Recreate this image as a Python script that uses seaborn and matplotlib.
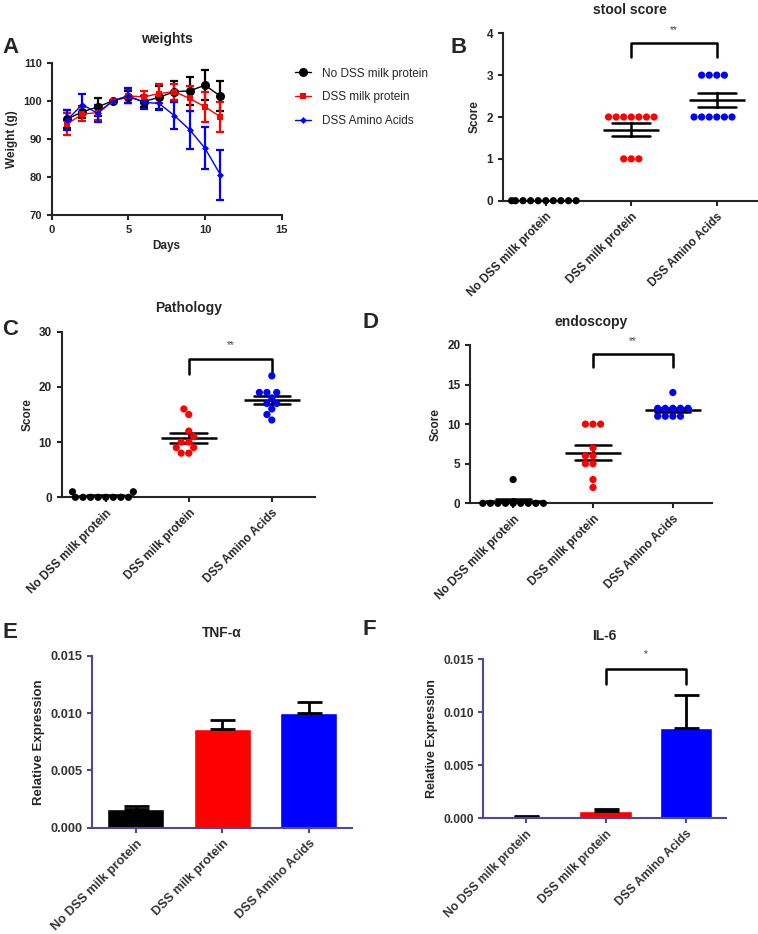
import matplotlib
matplotlib.use("Agg")
import matplotlib.pyplot as plt
from matplotlib.ticker import FormatStrFormatter
import numpy as np
import pandas as pd
import seaborn as sns

# groups shared by every panel
groups = ["No DSS milk protein", "DSS milk protein", "DSS Amino Acids"]
group_colors = ["#000000", "#ff0000", "#0000ff"]

# A: weights (mean +/- SEM per day)
days = [1, 2, 3, 4, 5, 6, 7, 8, 9, 10, 11]
w_nodss = [95.2, 97.1, 98.4, 100.0, 101.0, 99.8, 100.9, 102.4, 102.6, 104.1, 101.2]
w_nodss_sem = [2.3, 1.5, 2.3, 0.0, 1.5, 1.5, 3.0, 2.8, 3.6, 3.9, 3.9]
w_dss_milk = [93.9, 96.5, 96.9, 100.0, 101.3, 101.0, 101.9, 102.4, 100.6, 98.4, 95.8]
w_dss_milk_sem = [2.8, 1.8, 2.0, 0.0, 1.8, 1.5, 2.5, 2.1, 3.4, 4.0, 4.0]
w_dss_aa = [95.0, 99.0, 96.7, 100.0, 101.3, 99.6, 99.3, 96.1, 92.4, 87.5, 80.6]
w_dss_aa_sem = [2.6, 2.7, 2.3, 0.0, 2.0, 1.7, 1.8, 3.5, 5.0, 5.5, 6.6]

# B: stool score
stool_nodss = [0, 0, 0, 0, 0, 0, 0, 0, 0, 0]
stool_dss_milk = [2, 2, 2, 2, 2, 2, 2, 1, 1, 1]
stool_dss_aa = [3, 3, 3, 3, 2, 2, 2, 2, 2, 2]

# C: pathology score
path_nodss = [1, 1, 0, 0, 0, 0, 0, 0, 0, 0]
path_dss_milk = [16, 15, 12, 11, 10, 10, 9, 9, 8, 8]
path_dss_aa = [22, 19, 19, 19, 18, 17, 17, 16, 15, 14]

# D: endoscopy score
endo_nodss = [3, 0, 0, 0, 0, 0, 0, 0, 0, 0]
endo_dss_milk = [10, 10, 10, 7, 6, 6, 5, 5, 3, 2]
endo_dss_aa = [14, 12, 12, 12, 12, 12, 11, 11, 11, 11]

# E / F: relative expression (mean, SEM)
tnf_mean = [0.0016, 0.0086, 0.0100]
tnf_sem = [0.0003, 0.0008, 0.0010]
il6_mean = [0.0001, 0.0007, 0.0085]
il6_sem = [0.00012, 0.00015, 0.0031]

sns.set_style("ticks")
plt.rcParams["font.family"] = ["Liberation Sans", "DejaVu Sans"]
plt.rcParams["font.weight"] = "bold"
plt.rcParams["axes.labelweight"] = "bold"
plt.rcParams["axes.titleweight"] = "bold"
plt.rcParams["axes.linewidth"] = 1.5
plt.rcParams["xtick.major.width"] = 1.5
plt.rcParams["ytick.major.width"] = 1.5
plt.rcParams["xtick.major.size"] = 3.5
plt.rcParams["ytick.major.size"] = 3.5

W, H = 758, 934
fig = plt.figure(figsize=(W / 100, H / 100), dpi=100)


def rect(l, t, r, b):
    return [l / W, 1 - b / H, (r - l) / W, (b - t) / H]


def letter(x, y, s):
    fig.text(x / W, 1 - y / H, s, fontsize=16, fontweight="bold", ha="left", va="baseline")


def bracket(ax, x0, x1, y_low, y_high, star, star_y):
    ax.plot([x0, x0, x1, x1], [y_low, y_high, y_high, y_low], color="black", lw=1.8, clip_on=False)
    ax.text((x0 + x1) / 2, star_y, star, ha="center", va="center", fontsize=7,
            fontweight="normal", color="#444444", clip_on=False)


# ---- A: weights
ax = fig.add_axes(rect(51.7, 62.7, 281.7, 215))
series = [(w_nodss, w_nodss_sem, "o", 6.5), (w_dss_milk, w_dss_milk_sem, "s", 5),
          (w_dss_aa, w_dss_aa_sem, "D", 3.5)]
df_a = pd.DataFrame({"day": days * 3,
                     "weight": w_nodss + w_dss_milk + w_dss_aa,
                     "group": np.repeat(groups, len(days))})
for (m, s, mk, ms), g, c in zip(series, groups, group_colors):
    ax.errorbar(days, m, yerr=s, fmt="none", ecolor=c, elinewidth=1.6, capsize=2.8, capthick=1.6)
n_before = len(ax.lines)
sns.lineplot(data=df_a, x="day", y="weight", hue="group", style="group", palette=group_colors,
             markers={g: mk for g, (_, _, mk, _) in zip(groups, series)}, dashes=False,
             lw=1, markeredgewidth=0, ax=ax)
for line, (_, _, _, ms) in zip(ax.lines[n_before:], series):
    line.set_markersize(ms)
handles, labels = ax.get_legend_handles_labels()
ax.get_legend().remove()
for h, (_, _, _, ms) in zip(handles, series):
    h.set_markersize(ms)
fig.legend(handles, labels, loc="upper left", bbox_to_anchor=(284 / W, 1 - 57 / H), frameon=False,
           prop={"size": 8.5, "weight": "normal"}, labelspacing=1.0, handlelength=1.4,
           handletextpad=0.9)
ax.set_xlim(0, 15)
ax.set_ylim(70, 110)
ax.set_xticks([0, 5, 10, 15])
ax.set_yticks([70, 80, 90, 100, 110])
ax.tick_params(labelsize=8)
ax.set_xlabel("Days", fontsize=8.5)
ax.set_ylabel("Weight (g)", fontsize=8.5)
ax.set_title("weights", fontsize=10, pad=14)
sns.despine(ax=ax)
letter(2, 53, "A")


# ---- B, C, D: dot plots with mean +/- SEM
def dot_panel(box, values, title, ylim, yticks, xlim, brk):
    ax = fig.add_axes(rect(*box))
    df = pd.DataFrame({"group": np.repeat(groups, [len(v) for v in values]),
                       "score": np.concatenate(values)})
    sns.swarmplot(data=df, x="group", y="score", hue="group", palette=group_colors, size=5.2,
                  legend=False, ax=ax, order=groups, hue_order=groups)
    sns.pointplot(data=df, x="group", y="score", order=groups, errorbar="se", color="black",
                  linestyle="none", marker="_", markersize=40, markeredgewidth=1.8,
                  capsize=0.44, err_kws={"linewidth": 1.8}, ax=ax)
    for c in ax.collections:
        c.set_clip_on(False)
    ax.set_xlim(*xlim)
    ax.set_ylim(*ylim)
    ax.set_yticks(yticks)
    ax.set_xlabel("")
    ax.set_ylabel("Score", fontsize=8.5)
    ax.tick_params(labelsize=8.5)
    plt.setp(ax.get_xticklabels(), rotation=45, ha="right", rotation_mode="anchor")
    ax.set_title(title, fontsize=10, pad=14)
    bracket(ax, 1, 2, *brk)
    sns.despine(ax=ax)
    return ax


dot_panel((503, 33.3, 757, 200.7), [stool_nodss, stool_dss_milk, stool_dss_aa], "stool score",
          (0, 4), [0, 1, 2, 3, 4], (-0.5, 2.47), (3.44, 3.78, "**", 4.08))
letter(450, 53, "B")

dot_panel((61.7, 331.7, 315, 497.3), [path_nodss, path_dss_milk, path_dss_aa], "Pathology",
          (0, 30), [0, 10, 20, 30], (-0.53, 2.52), (22.3, 25.0, "**", 27.6))
letter(2, 335, "C")

dot_panel((470, 345, 712, 503.3), [endo_nodss, endo_dss_milk, endo_dss_aa], "endoscopy",
          (0, 20), [0, 5, 10, 15, 20], (-0.54, 2.49), (17.2, 18.85, "**", 20.5))
letter(362, 328, "D")


# ---- E, F: bar charts
def bar_panel(box, means, sems, title, xlim, label_size, tick_size, brk=None):
    ax = fig.add_axes(rect(*box))
    sns.barplot(x=groups, y=means, hue=groups, palette=group_colors, saturation=1, width=0.66,
                legend=False, ax=ax)
    ax.errorbar(range(len(groups)), means, yerr=[np.zeros(len(means)), sems], fmt="none",
                ecolor="black", elinewidth=2, capsize=9, capthick=2)
    ax.set_xlim(*xlim)
    ax.set_ylim(0, 0.015)
    ax.set_yticks([0, 0.005, 0.010, 0.015])
    ax.yaxis.set_major_formatter(FormatStrFormatter("%.3f"))
    ax.set_ylabel("Relative Expression", fontsize=label_size)
    ax.tick_params(labelsize=tick_size, colors="#4a4a9a", labelcolor="#333333")
    for sp in ["left", "bottom"]:
        ax.spines[sp].set_color("#4a4a9a")
    plt.setp(ax.get_xticklabels(), rotation=45, ha="right", rotation_mode="anchor")
    ax.set_title(title, fontsize=10, pad=14)
    if brk:
        bracket(ax, 1, 2, *brk)
    sns.despine(ax=ax)
    return ax


bar_panel((92.3, 656, 352, 827.7), tnf_mean, tnf_sem, "TNF-α", (-0.505, 2.5), 9.5, 9.2)
letter(2, 638, "E")

bar_panel((483.3, 659.3, 726, 818.3), il6_mean, il6_sem, "IL-6", (-0.53, 2.5), 9, 8.7,
          (0.0127, 0.01408, "*", 0.0155))
letter(362, 635, "F")

fig.savefig("out.png", dpi=100)
